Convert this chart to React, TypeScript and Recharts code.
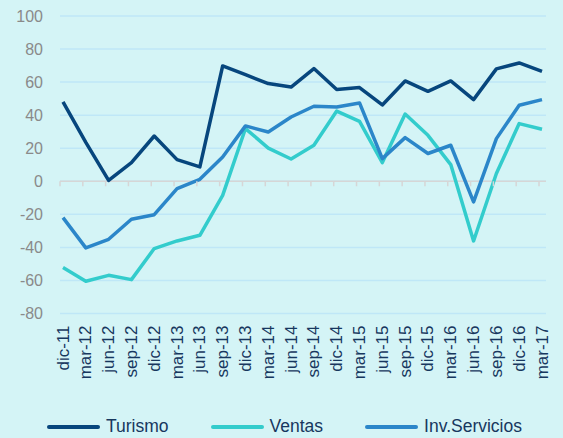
import React from "react";
import { CartesianGrid, Legend, Line, LineChart, ReferenceLine, XAxis, YAxis } from "recharts";

const categories = [
  "dic-11", "mar-12", "jun-12", "sep-12", "dic-12", "mar-13", "jun-13", "sep-13",
  "dic-13", "mar-14", "jun-14", "sep-14", "dic-14", "mar-15", "jun-15", "sep-15",
  "dic-15", "mar-16", "jun-16", "sep-16", "dic-16", "mar-17",
];
const turismo = [48, 23.5, 0.5, 11.3, 27.4, 13.1, 8.7, 69.8, 64.5, 59.1, 57, 68.2, 55.5, 56.7, 46.2, 60.7, 54.4, 60.7, 49.4, 68, 71.6, 66.5];
const ventas = [-52.2, -60.5, -56.9, -59.5, -40.7, -36.1, -32.7, -8.5, 31.9, 20.1, 13.5, 21.8, 42.5, 36.3, 11.3, 40.7, 27.8, 10.1, -36.1, 4.7, 34.9, 31.5];
const invServicios = [-22, -40.3, -35.1, -23, -20.2, -4.4, 1.2, 14.7, 33.5, 29.8, 38.9, 45.4, 45, 47.4, 13.7, 26.4, 16.8, 21.8, -12.5, 25.8, 46, 49.4];
const yTicks = [-80, -60, -40, -20, 0, 20, 40, 60, 80, 100];
const seriesOrder = ["Turismo", "Ventas", "Inv.Servicios"];

const data = categories.map((label, i) => ({
  label,
  turismo: turismo[i],
  ventas: ventas[i],
  inv: invServicios[i],
}));

const bg = "#d4f4f6";
const grid = "#bfe7f7";
const zeroLine = "#d6d6d6";
const textDark = "#17375e";
const textGrey = "#8a8a8a";
const font = "'Liberation Sans', Arial, sans-serif";

const W = 563;
const H = 438;
const PLOT_TOP = 16;
const PLOT_BOTTOM = 313.5;
const zeroY = PLOT_TOP + ((PLOT_BOTTOM - PLOT_TOP) * 100) / 180;

function CategoryTick(props: any) {
  const { x, payload } = props;
  const ly = PLOT_BOTTOM + 12;
  return (
    <g>
      <line x1={x - 3} x2={x - 3} y1={zeroY} y2={zeroY + 5} stroke={zeroLine} strokeWidth={1.5} />
      <text
        x={x}
        y={ly}
        transform={`rotate(-90, ${x}, ${ly})`}
        textAnchor="end"
        dominantBaseline="central"
        fill={textDark}
        fontSize={17}
        fontFamily={font}
      >
        {payload.value}
      </text>
    </g>
  );
}

function renderLegend(props: any) {
  const payload = [...(props.payload || [])].sort(
    (a: any, b: any) => seriesOrder.indexOf(a.value) - seriesOrder.indexOf(b.value)
  );
  return (
    <div style={{ display: "flex", alignItems: "center", paddingLeft: 47 }}>
      {payload.map((p: any) => (
        <div key={p.value} style={{ display: "flex", alignItems: "center", marginRight: 42 }}>
          <span style={{ display: "inline-block", width: 53, height: 4, background: p.color, borderRadius: 2 }} />
          <span style={{ marginLeft: 6, color: textDark, fontSize: 17.5, fontFamily: font }}>{p.value}</span>
        </div>
      ))}
    </div>
  );
}

export default function App() {
  return (
    <div style={{ position: "absolute", left: 0, top: 0, width: W, height: H, background: bg }}>
      <LineChart width={W} height={H} data={data} margin={{ top: PLOT_TOP, right: 17, left: 0, bottom: 54.5 }}>
        <CartesianGrid vertical={false} stroke={grid} strokeWidth={1.5} />
        <XAxis
          dataKey="label"
          interval={0}
          height={70}
          axisLine={false}
          tickLine={false}
          padding={{ left: 3, right: 4 }}
          tick={<CategoryTick />}
        />
        <YAxis
          domain={[-80, 100]}
          ticks={yTicks}
          interval={0}
          width={60}
          axisLine={false}
          tickLine={false}
          tickSize={0}
          tickMargin={17}
          tick={{ fill: textGrey, fontSize: 16, fontFamily: font }}
        />
        <ReferenceLine y={0} stroke={zeroLine} strokeWidth={1.5} />
        <Line dataKey="turismo" name="Turismo" stroke="#07467d" strokeWidth={3.5} dot={false} strokeLinejoin="round" isAnimationActive={false} />
        <Line dataKey="ventas" name="Ventas" stroke="#33cccc" strokeWidth={3.5} dot={false} strokeLinejoin="round" isAnimationActive={false} />
        <Line dataKey="inv" name="Inv.Servicios" stroke="#2b86c9" strokeWidth={3.5} dot={false} strokeLinejoin="round" isAnimationActive={false} />
        <Legend
          content={renderLegend}
          layout="horizontal"
          verticalAlign="middle"
          align="center"
          wrapperStyle={{ position: "absolute", top: 416, left: 0, width: W }}
        />
      </LineChart>
    </div>
  );
}
